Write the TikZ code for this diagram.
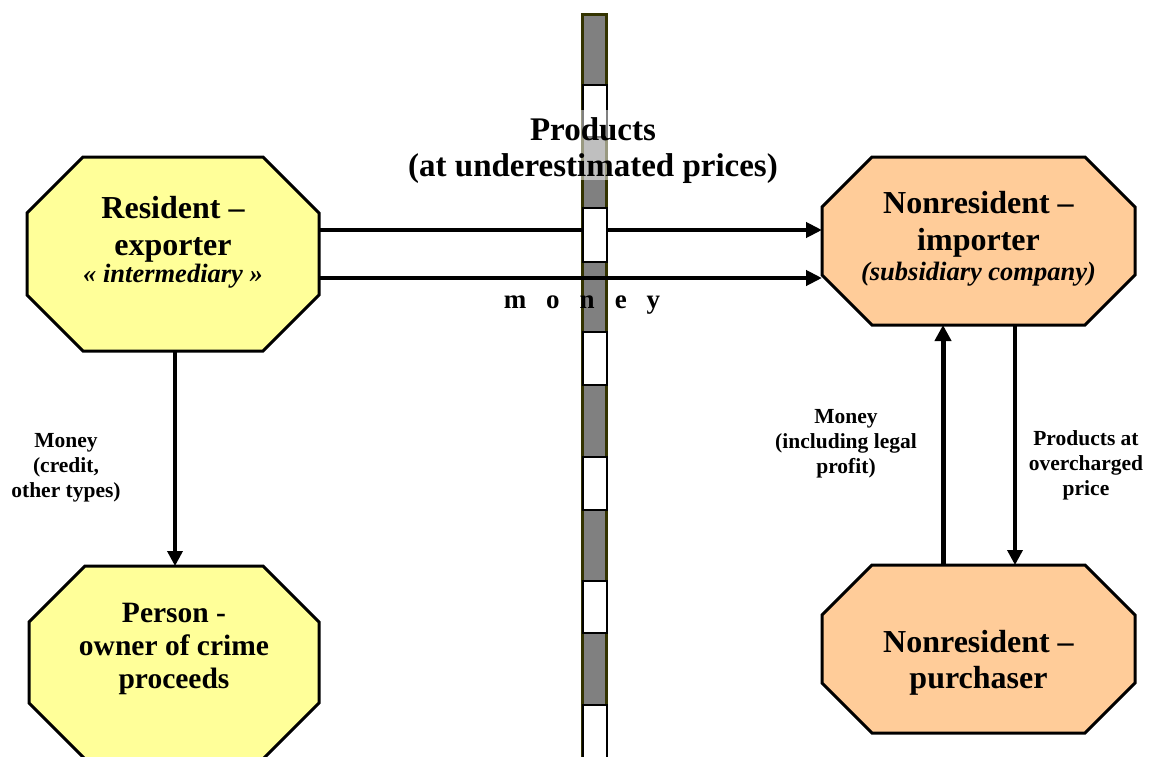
\documentclass[tikz,border=0pt]{standalone}
\usepackage{fontspec}
\setmainfont{Liberation Serif}
\usetikzlibrary{arrows.meta}

\definecolor{exporterfill}{HTML}{FFFF99}
\definecolor{importerfill}{HTML}{FFCC99}
\definecolor{borderolive}{HTML}{333300}
\definecolor{stripgray}{HTML}{808080}

% octagon outline around a rectangular node: #1 node name, #2 chamfer size
\newcommand\octagonpath[2]{%
  ([xshift=#2]#1.north west) -- ([xshift=-#2]#1.north east)
  -- ([yshift=-#2]#1.north east) -- ([yshift=#2]#1.south east)
  -- ([xshift=-#2]#1.south east) -- ([xshift=#2]#1.south west)
  -- ([yshift=#2]#1.south west) -- ([yshift=-#2]#1.north west) -- cycle}

\begin{document}
\begin{tikzpicture}[x=1pt,y=-1pt,
  frame/.style={inner sep=0pt, outer sep=0pt},
  octline/.style={draw=black, line width=3pt, line join=miter},
  % multi-line texts are placed by the baseline of their last line
  heading/.style={anchor=base, align=center, inner sep=0pt,
    font=\bfseries\fontsize{32}{37}\selectfont},
  note/.style={anchor=base, align=center, inner sep=0pt,
    font=\bfseries\fontsize{21.5}{25}\selectfont},
  flow/.style={line width=4.5pt, -{Triangle[length=16pt,width=15pt]}},
  thinflow/.style={line width=3.5pt, -{Triangle[length=15pt,width=15pt]}},
  thickflow/.style={line width=5pt, -{Triangle[length=16pt,width=16pt]}},
  stripcase/.style={fill=stripgray, draw=borderolive, line width=3pt},
  stripgap/.style={fill=white, draw=black, line width=2pt},
]
\path[use as bounding box] (0,0) rectangle (1153,757);

% party frames
\node[frame, minimum width=292pt, minimum height=194pt] (rex) at (173,254) {};
\node[frame, minimum width=290pt, minimum height=193pt] (owner) at (174,662.5) {};
\node[frame, minimum width=313pt, minimum height=168pt] (imp) at (978.5,241) {};
\node[frame, minimum width=313pt, minimum height=168pt] (pur) at (978.5,649) {};

% octagonal outlines
\path[octline, fill=exporterfill] \octagonpath{rex}{56pt};
\path[octline, fill=exporterfill] \octagonpath{owner}{56pt};
\path[octline, fill=importerfill] \octagonpath{imp}{50pt};
\path[octline, fill=importerfill] \octagonpath{pur}{50pt};

% party names
\node[heading] (rextext) at (173,282)
  {Resident –\\exporter\\[-10pt]{\bfseries\itshape\fontsize{26.5}{27}\selectfont « intermediary »}};
\node[heading, font=\bfseries\fontsize{29.5}{33}\selectfont] (ownertext) at (174,688)
  {Person -\\owner of crime\\proceeds};
\node[heading] (imptext) at (978.5,280)
  {Nonresident –\\importer\\[-7pt]{\bfseries\itshape\fontsize{26.5}{27}\selectfont (subsidiary company)}};
\node[heading, font=\bfseries\fontsize{32}{36}\selectfont] (purtext) at (978.5,688)
  {Nonresident –\\purchaser};

% border strip
\path[stripcase] (582.5,14.5) rectangle (606.5,770);

% flows across the border
\coordinate (goodsout) at ([yshift=24pt]rex.east);
\coordinate (moneyout) at ([yshift=-24pt]rex.east);
\draw[flow] (goodsout) -- (goodsout -| imp.west);
\draw[flow] (moneyout) -- (moneyout -| imp.west);

% white cells of the strip
\foreach \top/\bot in {85/137, 208/262, 332/385, 457/510, 581/633}
  \path[stripgap] (582.5,\top) rectangle (606.5,\bot);
\path[fill=white] (582.5,705) rectangle (606.5,770);
\draw[black, line width=2pt] (582.5,770) -- (582.5,705) -- (606.5,705) -- (606.5,770);

% translucent band behind the heading
\fill[white, opacity=0.5] (405,110) rectangle (782,180);
\node[heading, font=\bfseries\fontsize{33}{36}\selectfont] (goodslabel) at (593,176)
  {Products\\(at underestimated prices)};

\node[anchor=base, inner sep=0pt, font=\bfseries\fontsize{27}{30}\selectfont] (moneylabel) at (582,308)
  {m\hspace{20pt}o\hspace{20pt}n\hspace{20pt}e\hspace{20pt}y};

% flows on each side
\draw[thinflow] ([xshift=2pt]rex.south) -- ([xshift=2pt]rex.south |- owner.north);
\draw[thickflow] ([xshift=-35.5pt]pur.north) -- ([xshift=-35.5pt]pur.north |- imp.south);
\draw[thinflow] ([xshift=36.5pt]imp.south) -- ([xshift=36.5pt]imp.south |- pur.north);

% flow notes
\node[note] (creditnote) at (66,497) {Money\\(credit,\\other types)};
\node[note] (profitnote) at (846,473) {Money\\(including legal\\profit)};
\node[note] (pricenote) at (1086,495) {Products at\\overcharged\\price};
\end{tikzpicture}
\end{document}
